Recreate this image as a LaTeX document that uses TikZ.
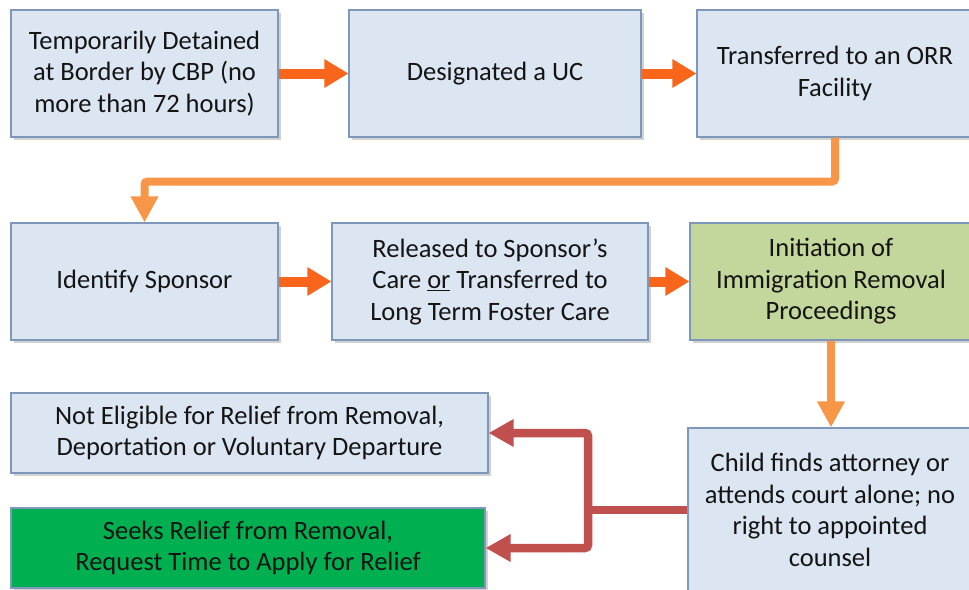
\documentclass[tikz,border=0pt]{standalone}
\usepackage{fontspec}
\setmainfont{Carlito}
\usetikzlibrary{arrows.meta,shadows}

\definecolor{boxfill}{HTML}{DCE6F2}
\definecolor{boxline}{HTML}{7F97B8}
\definecolor{olive}{HTML}{C3D69B}
\definecolor{brightgreen}{HTML}{00B050}
\definecolor{flowor}{HTML}{F9661B}
\definecolor{lightor}{HTML}{F79646}
\definecolor{branchred}{HTML}{C0504D}
\definecolor{ink}{HTML}{141414}

\newcommand{\bodyfont}{\fontsize{26.5}{31.5}\selectfont}

\tikzset{
  box/.style={draw=boxline, fill=boxfill, line width=1.1pt, align=center,
    inner sep=0pt, text=ink, font=\bodyfont,
    drop shadow={shadow xshift=2.5pt, shadow yshift=-3pt, opacity=0.3, fill=black!60}},
  arrOr/.style={draw=flowor, line width=10pt,
    -{Triangle[width=27pt,length=24pt,fill=flowor]}},
  arrLt/.style={draw=lightor, line width=8pt, rounded corners=3pt,
    -{Triangle[width=26pt,length=26pt,fill=lightor]}},
  arrRd/.style={draw=branchred, line width=8.5pt, rounded corners=3pt,
    -{Triangle[width=26pt,length=25pt,fill=branchred]}},
}

\begin{document}
\begin{tikzpicture}[x=1pt, y=-1pt]
  \useasboundingbox (0,0) rectangle (969,589);

  % first row
  \node[box, minimum width=267pt, minimum height=127pt] (detain) at (144.5,73.5)
    {Temporarily Detained\\at Border by CBP (no\\more than 72 hours)};
  \node[box, minimum width=292pt, minimum height=127pt] (uc) at (495,73.5)
    {Designated a UC};
  \node[box, minimum width=276pt, minimum height=127pt] (orr) at (835,73.5)
    {Transferred to an ORR\\Facility};

  % second row
  \node[box, minimum width=267pt, minimum height=117pt] (sponsor) at (144.5,281.5)
    {Identify Sponsor};
  \node[box, minimum width=316pt, minimum height=117pt] (release) at (490,281.5)
    {Released to Sponsor’s\\Care \underline{or} Transferred to\\Long Term Foster Care};
  \node[box, fill=olive, minimum width=282pt, minimum height=117pt] (removal) at (831,281.5)
    {Initiation of\\Immigration Removal\\Proceedings};

  % outcomes
  \node[box, minimum width=477pt, minimum height=80pt] (noteligible) at (249.5,433)
    {Not Eligible for Relief from Removal,\\Deportation or Voluntary Departure};
  \node[box, fill=brightgreen, minimum width=474pt, minimum height=80pt] (relief) at (248,548)
    {Seeks Relief from Removal,\\Request Time to Apply for Relief};
  \node[box, minimum width=284pt, minimum height=164pt] (counsel) at (830,510)
    {Child finds attorney or\\attends court alone; no\\right to appointed\\counsel};

  % connectors
  \draw[arrOr] (detain.east) -- (uc.west);
  \draw[arrOr] (uc.east) -- (orr.west);
  \draw[arrOr] (sponsor.east) -- (release.west);
  \draw[arrOr] (release.east) -- (removal.west);

  \draw[arrLt] (orr.south) -- ++(0,44) -| (sponsor.north);
  \draw[arrLt] (removal.south) -- (removal.south |- counsel.north);

  \coordinate (split) at (588,510);
  \draw[draw=branchred, line width=8.5pt] (counsel.west) -- (split);
  \draw[arrRd] (split) |- (noteligible.east);
  \draw[arrRd] (split) |- (relief.east);
\end{tikzpicture}
\end{document}
